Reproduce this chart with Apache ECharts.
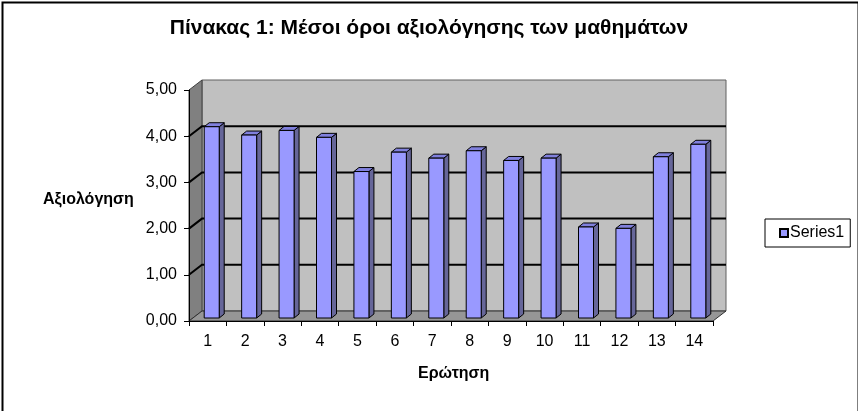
<!DOCTYPE html>
<html>
<head>
<meta charset="utf-8">
<script src="https://cdn.jsdelivr.net/npm/echarts@6/dist/echarts.min.js"></script>
<style>
html, body { margin: 0; padding: 0; background: #fff; }
#chart { width: 858px; height: 411px; }
</style>
</head>
<body>
<div id="chart"></div>
<script>
// Πίνακας 1 - μέσοι όροι ανά ερώτηση
var questions = ['1', '2', '3', '4', '5', '6', '7', '8', '9', '10', '11', '12', '13', '14'];
var averages = [4.14, 3.96, 4.06, 3.91, 3.17, 3.59, 3.46, 3.62, 3.41, 3.46, 1.97, 1.94, 3.49, 3.76];
var yTicks = [0, 1, 2, 3, 4, 5];

// ψευδο-3Δ: βάθος τοίχων και ράβδων
var DX = 13, DY = -10;
var BAR_W = 15, BAR_DX = 5, BAR_DY = -4, BAR_OFF = 4, BAR_OFF_Y = -3;
var FONT = 'Arial, "Liberation Sans", sans-serif';

var barData = [];
for (var i = 0; i < averages.length; i++) {
    barData.push([i, averages[i]]);
}

function renderWalls(params, api) {
    var cs = params.coordSys;
    var x0 = cs.x, x1 = cs.x + cs.width;
    var yTop = cs.y, yBot = cs.y + cs.height;
    var children = [];
    // πίσω τοίχος
    children.push({
        type: 'rect',
        shape: { x: x0 + DX, y: yTop + DY, width: cs.width, height: cs.height },
        style: { fill: '#c0c0c0', stroke: '#606060', lineWidth: 1 }
    });
    // αριστερός τοίχος
    children.push({
        type: 'polygon',
        shape: { points: [[x0, yTop], [x0 + DX, yTop + DY], [x0 + DX, yBot + DY], [x0, yBot]] },
        style: { fill: '#808080', stroke: '#404040', lineWidth: 1 }
    });
    // δάπεδο
    children.push({
        type: 'polygon',
        shape: { points: [[x0, yBot], [x0 + DX, yBot + DY], [x1 + DX, yBot + DY], [x1, yBot]] },
        style: { fill: '#969696', stroke: '#303030', lineWidth: 1 }
    });
    for (var k = 1; k < yTicks.length - 1; k++) {
        var y = api.coord([0, yTicks[k]])[1];
        children.push({
            type: 'polyline',
            shape: { points: [[x0, y], [x0 + DX, y + DY], [x1 + DX, y + DY]] },
            style: { stroke: '#000', lineWidth: 2, fill: null }
        });
    }
    return { type: 'group', children: children };
}

function renderBar(params, api) {
    var idx = api.value(0), v = api.value(1);
    var base = api.coord([idx, 0]);
    var top = api.coord([idx, v]);
    var l = base[0] + BAR_OFF - BAR_W / 2, r = l + BAR_W;
    var yb = base[1] + BAR_OFF_Y, yt = top[1] + BAR_OFF_Y;
    return {
        type: 'group',
        children: [
            {
                type: 'polygon',
                shape: { points: [[r, yb], [r, yt], [r + BAR_DX, yt + BAR_DY], [r + BAR_DX, yb + BAR_DY]] },
                style: { fill: '#666699', stroke: '#000', lineWidth: 1 }
            },
            {
                type: 'polygon',
                shape: { points: [[l, yt], [l + BAR_DX, yt + BAR_DY], [r + BAR_DX, yt + BAR_DY], [r, yt]] },
                style: { fill: '#8080dd', stroke: '#000', lineWidth: 1 }
            },
            {
                type: 'rect',
                shape: { x: l, y: yt, width: BAR_W, height: yb - yt },
                style: { fill: '#9999ff', stroke: '#000', lineWidth: 1 }
            }
        ]
    };
}

var myChart = echarts.init(document.getElementById('chart'));

var option = {
    backgroundColor: '#fff',
    animation: false,
    title: {
        text: 'Πίνακας 1: Μέσοι όροι αξιολόγησης των μαθημάτων',
        left: 'center',
        top: 13,
        textStyle: { fontFamily: FONT, fontWeight: 'bold', fontSize: 21, color: '#000' }
    },
    legend: {
        data: [{ name: 'Series1', icon: 'rect' }],
        left: 765,
        top: 219,
        orient: 'vertical',
        borderColor: '#000',
        borderWidth: 1,
        padding: [6, 6, 6, 14],
        itemWidth: 8,
        itemHeight: 8,
        itemGap: 4,
        textStyle: { fontFamily: FONT, fontSize: 16, color: '#000', padding: [0, 0, 0, -3] }
    },
    grid: {
        left: 189,
        top: 90,
        width: 524,
        height: 231
    },
    xAxis: {
        type: 'category',
        data: questions,
        boundaryGap: true,
        axisLine: { lineStyle: { color: '#000', width: 1 } },
        axisTick: { show: true, length: 5, interval: 0, lineStyle: { color: '#000' } },
        axisLabel: { interval: 0, margin: 13, color: '#000', fontFamily: FONT, fontSize: 16 },
        splitLine: { show: false },
        z: 5
    },
    yAxis: {
        type: 'value',
        min: 0,
        max: 5,
        interval: 1,
        axisLine: { show: true, lineStyle: { color: '#000', width: 1 } },
        axisTick: { show: true, length: 5, lineStyle: { color: '#000' } },
        axisLabel: {
            margin: 12,
            color: '#000',
            fontFamily: FONT,
            fontSize: 16,
            formatter: function (v) { return v.toFixed(2).replace('.', ','); }
        },
        splitLine: { show: false },
        z: 5
    },
    graphic: [
        {
            type: 'text',
            left: 43,
            top: 192,
            style: { text: 'Αξιολόγηση', fill: '#000', font: 'bold 16px ' + FONT }
        },
        {
            type: 'text',
            left: 418,
            top: 366,
            style: { text: 'Ερώτηση', fill: '#000', font: 'bold 16px ' + FONT }
        },
        {
            type: 'rect',
            left: 0,
            top: 0,
            shape: { x: 0, y: 0, width: 856, height: 420 },
            style: { fill: null, stroke: '#000', lineWidth: 2 },
            silent: true
        }
    ],
    series: [
        {
            name: 'walls',
            type: 'custom',
            silent: true,
            renderItem: renderWalls,
            data: [[0, 0]],
            z: 1
        },
        {
            name: 'Series1',
            type: 'custom',
            renderItem: renderBar,
            itemStyle: { color: '#9999ff', borderColor: '#000', borderWidth: 1 },
            encode: { x: 0, y: 1 },
            data: barData,
            z: 3
        }
    ]
};

myChart.setOption(option);
</script>
</body>
</html>
